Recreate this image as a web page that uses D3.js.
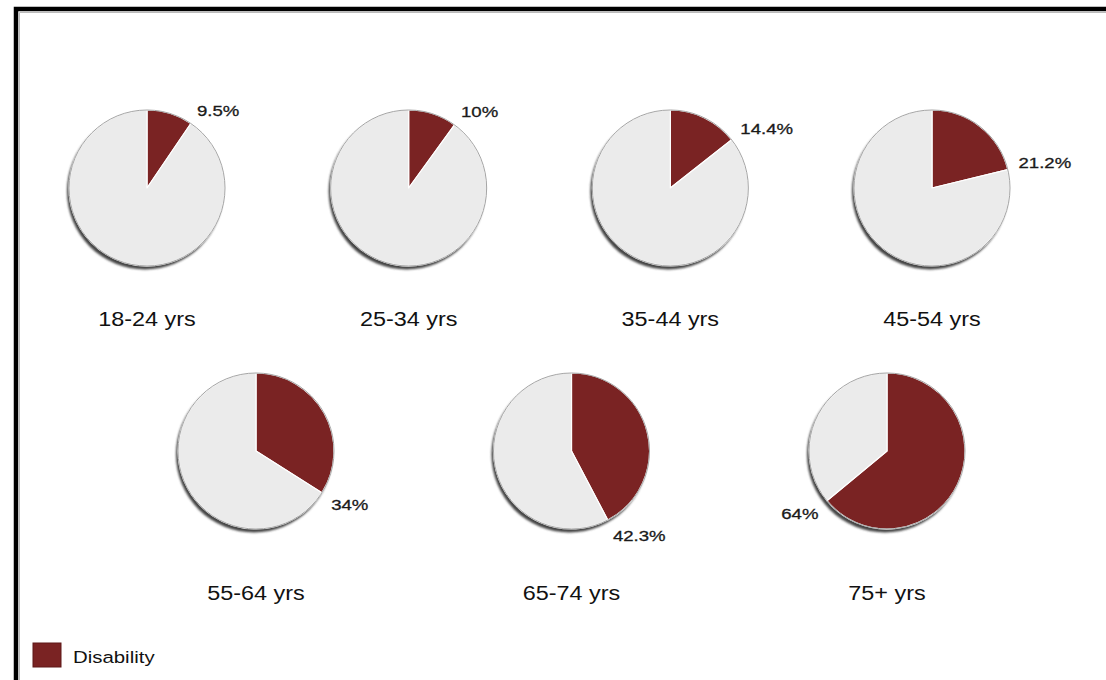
<!DOCTYPE html>
<html>
<head>
<meta charset="utf-8">
<script src="https://cdn.jsdelivr.net/npm/d3@7"></script>
<style>
  html, body { margin: 0; padding: 0; background: #fff; }
  svg { display: block; }
  text { font-family: "Liberation Sans", Arial, Helvetica, sans-serif; }
</style>
</head>
<body>
<svg id="chart" width="1106" height="680"></svg>
<script>
// ---- data ----
const row1Categories = ["18-24 yrs", "25-34 yrs", "35-44 yrs", "45-54 yrs"];
const row1Values = [9.5, 10, 14.4, 21.2];
const row2Categories = ["55-64 yrs", "65-74 yrs", "75+ yrs"];
const row2Values = [34, 42.3, 64];
const valueLabels1 = ["9.5%", "10%", "14.4%", "21.2%"];
const valueLabels2 = ["34%", "42.3%", "64%"];
const seriesNames = ["Disability", "Other"];

// ---- style ----
const W = 1106, H = 680;
const R = 78;
const dark = "#7a2323";
const light = "#ebebeb";
const sx = 1.2; // horizontal text stretch seen in reference

const svg = d3.select("#chart");
svg.append("rect").attr("width", W).attr("height", H).attr("fill", "#fff");

const defs = svg.append("defs");
defs.append("filter").attr("id", "blur").attr("x", "-10%").attr("y", "-10%")
  .attr("width", "120%").attr("height", "120%")
  .append("feGaussianBlur").attr("stdDeviation", 0.8);

// frame
svg.append("rect").attr("x", 16).attr("y", 9).attr("width", 1300).attr("height", 900)
  .attr("fill", "none").attr("stroke", "#000").attr("stroke-width", 4.5);
svg.append("path").attr("d", "M19.5,800V12.5H1200")
  .attr("fill", "none").attr("stroke", "#bbb").attr("stroke-width", 1);

const color = d3.scaleOrdinal().domain(seriesNames).range([dark, light]);
const pie = d3.pie().sort(null).value(d => d.v);
const arc = d3.arc().innerRadius(0).outerRadius(R);

const rows = [
  { cats: row1Categories, vals: row1Values, labels: valueLabels1, range: [147, 932], cy: 188, labelY: 326 },
  { cats: row2Categories, vals: row2Values, labels: valueLabels2, range: [256, 887], cy: 451, labelY: 600 }
];

rows.forEach(row => {
  const x = d3.scalePoint().domain(row.cats).range(row.range);
  row.cats.forEach((cat, i) => {
    const cx = x(cat), cy = row.cy;
    const v = row.vals[i];
    const data = [{ name: seriesNames[0], v: v }, { name: seriesNames[1], v: 100 - v }];
    const g = svg.append("g").attr("transform", `translate(${cx},${cy})`);
    // shadow
    g.append("circle").attr("cx", -2).attr("cy", 3.5).attr("r", R)
      .attr("fill", "#444").attr("filter", "url(#blur)");
    const arcs = pie(data);
    g.selectAll("path.slice").data(arcs).join("path").attr("class", "slice")
      .attr("d", arc).attr("fill", d => color(d.data.name))
      .attr("stroke", "#fff").attr("stroke-width", 1.2).attr("stroke-linejoin", "round");
    g.append("circle").attr("r", R).attr("fill", "none")
      .attr("stroke", "#9a9a9a").attr("stroke-width", 0.9);

    // value label at end angle of disability slice
    const a = arcs[0].endAngle;
    const rr = R + 11;
    const px = Math.sin(a) * rr, py = -Math.cos(a) * rr + (Math.cos(a) < 0 ? 6 : -4);
    const anchor = Math.sin(a) >= 0 ? "start" : "end";
    g.append("text")
      .attr("transform", `translate(${px},${py}) scale(${sx},1)`)
      .attr("text-anchor", anchor).attr("dy", "0.35em")
      .attr("font-size", 15.5).attr("fill", "#1a1a1a")
      .attr("stroke", "#1a1a1a").attr("stroke-width", 0.3)
      .text(row.labels[i]);

    // category label
    svg.append("text")
      .attr("transform", `translate(${cx},${row.labelY}) scale(${sx},1)`)
      .attr("text-anchor", "middle").attr("font-size", 19.5).attr("fill", "#111")
      .text(cat);
  });
});

// legend
const lg = svg.append("g").attr("transform", "translate(33,643)");
lg.append("rect").attr("width", 28).attr("height", 24)
  .attr("fill", color(seriesNames[0])).attr("stroke", "#5e1818").attr("stroke-width", 1);
lg.append("text").attr("transform", `translate(40,20) scale(${sx},1)`)
  .attr("font-size", 17).attr("fill", "#111").text(seriesNames[0]);
</script>
</body>
</html>
